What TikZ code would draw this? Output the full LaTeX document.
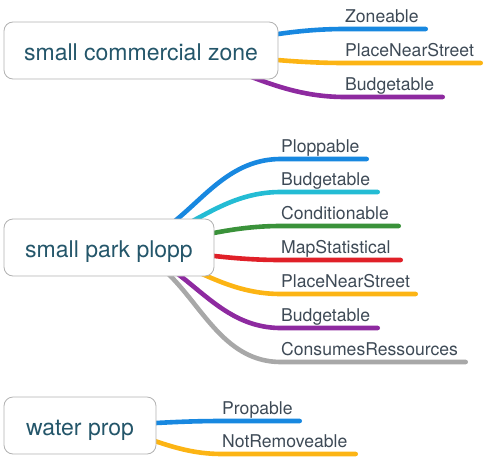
\documentclass[tikz,border=0pt]{standalone}
\usepackage{fontspec}
\setmainfont{TeX Gyre Heros}
\usetikzlibrary{backgrounds}
\definecolor{mtext}{RGB}{36,86,106}
\definecolor{ltext}{RGB}{62,74,86}
\definecolor{boxgray}{RGB}{178,178,178}
\definecolor{cblue}{RGB}{24,136,224}
\definecolor{corange}{RGB}{252,180,20}
\definecolor{cpurple}{RGB}{142,42,160}
\definecolor{ccyan}{RGB}{36,188,212}
\definecolor{cgreen}{RGB}{58,146,58}
\definecolor{cred}{RGB}{224,32,40}
\definecolor{cgray}{RGB}{168,168,168}
\newcommand\mkleaf[5]{%
  \node[leaf] (#1) at (#2,#3-6.3) {#5};
  \coordinate (#1a) at (#2,#3);
  \coordinate (#1b) at (#4,#3);}
\begin{document}
\begin{tikzpicture}[x=1pt,y=-1pt,
  topic/.style={draw=boxgray, line width=0.8pt, rounded corners=9pt, fill=white,
    text=mtext, font=\fontsize{23}{27}\selectfont, inner sep=0pt,
    text height=20pt, text depth=0pt},
  leaf/.style={anchor=base west, inner sep=0pt, text=ltext,
    font=\fontsize{17.6}{20}\selectfont},
  branch/.style={line width=4.6pt, line cap=round}]
\useasboundingbox (0,0) rectangle (486,460);
% topics
\node[topic, minimum width=274pt, minimum height=57pt] (c1) at (141,50.5) {small commercial zone};
\node[topic, minimum width=210pt, minimum height=57pt] (c2) at (109,247.5) {small park plopp};
\node[topic, minimum width=152pt, minimum height=57pt] (c3) at (80,425.5) {water prop};
% leaves
\mkleaf{z1}{345}{29}{425.7}{Zoneable}
\mkleaf{z2}{345}{63}{480.7}{PlaceNearStreet}
\mkleaf{z3}{345}{97}{442.7}{Budgetable}
\mkleaf{p1}{281}{159}{366.7}{Ploppable}
\mkleaf{p2}{281}{192}{377.7}{Budgetable}
\mkleaf{p3}{281}{226}{398.7}{Conditionable}
\mkleaf{p4}{281}{260}{400.7}{MapStatistical}
\mkleaf{p5}{281}{294}{415.7}{PlaceNearStreet}
\mkleaf{p6}{281}{328}{377.7}{Budgetable}
\mkleaf{p7}{281}{362}{465.7}{ConsumesRessources}
\mkleaf{w1}{222}{421}{299.7}{Propable}
\mkleaf{w2}{222}{454}{355.7}{NotRemoveable}
% branches
\begin{scope}[on background layer]
\draw[branch, cblue]   (c1.center) to[out=0,in=180] (z1a) -- (z1b);
\draw[branch, corange] (c1.center) to[out=0,in=180] (z2a) -- (z2b);
\draw[branch, cpurple] (c1.center) to[out=0,in=180] (z3a) -- (z3b);
\draw[branch, cblue]   (c2.center) to[out=0,in=180] (p1a) -- (p1b);
\draw[branch, ccyan]   (c2.center) to[out=0,in=180] (p2a) -- (p2b);
\draw[branch, cgreen]  (c2.center) to[out=0,in=180] (p3a) -- (p3b);
\draw[branch, cred]    (c2.center) to[out=0,in=180] (p4a) -- (p4b);
\draw[branch, corange] (c2.center) to[out=0,in=180] (p5a) -- (p5b);
\draw[branch, cpurple] (c2.center) to[out=0,in=180] (p6a) -- (p6b);
\draw[branch, cgray]   (c2.center) to[out=0,in=180] (p7a) -- (p7b);
\draw[branch, cblue]   (c3.center) to[out=0,in=180] (w1a) -- (w1b);
\draw[branch, corange] (c3.center) to[out=0,in=180] (w2a) -- (w2b);
\end{scope}
\end{tikzpicture}
\end{document}
